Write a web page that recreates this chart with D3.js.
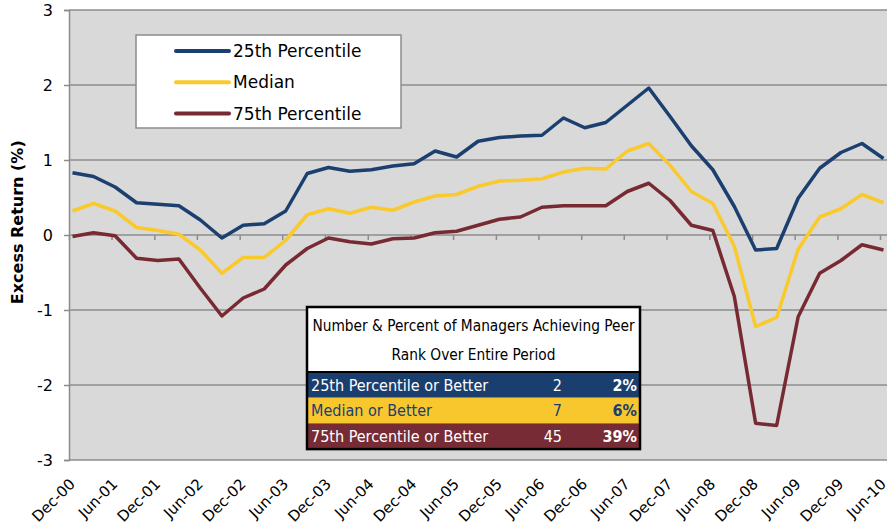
<!DOCTYPE html>
<html lang="en">
<head>
<meta charset="utf-8">
<title>Excess Return by Peer Rank</title>
<script src="https://d3js.org/d3.v7.min.js"></script>
<style>
    body { margin: 0; background: #ffffff; }
    text { font-family: "DejaVu Sans", sans-serif; fill: #000; }
    .tbl text { font-family: "DejaVu Sans Condensed", "DejaVu Sans", sans-serif; }
</style>
</head>
<body>
<svg width="889" height="522"></svg>
<script>
// quarterly categories
var quarters = ["Dec-00","Mar-01","Jun-01","Sep-01","Dec-01","Mar-02","Jun-02","Sep-02","Dec-02","Mar-03",
    "Jun-03","Sep-03","Dec-03","Mar-04","Jun-04","Sep-04","Dec-04","Mar-05","Jun-05","Sep-05",
    "Dec-05","Mar-06","Jun-06","Sep-06","Dec-06","Mar-07","Jun-07","Sep-07","Dec-07","Mar-08",
    "Jun-08","Sep-08","Dec-08","Mar-09","Jun-09","Sep-09","Dec-09","Mar-10","Jun-10"];

var tickLabels = ["Dec-00","Jun-01","Dec-01","Jun-02","Dec-02","Jun-03","Dec-03","Jun-04","Dec-04","Jun-05",
    "Dec-05","Jun-06","Dec-06","Jun-07","Dec-07","Jun-08","Dec-08","Jun-09","Dec-09","Jun-10"];

var yTicks = [-3, -2, -1, 0, 1, 2, 3];

var p25 = [0.83,0.78,0.64,0.43,0.41,0.39,0.20,-0.04,0.13,0.15,0.32,0.82,0.90,0.85,0.87,0.92,0.95,1.12,1.04,1.25,
    1.30,1.32,1.33,1.56,1.43,1.50,1.73,1.96,1.58,1.19,0.87,0.38,-0.20,-0.18,0.49,0.89,1.10,1.22,1.02];
var median = [0.32,0.42,0.32,0.10,0.06,0.01,-0.20,-0.51,-0.30,-0.30,-0.07,0.27,0.35,0.29,0.37,0.33,0.44,0.52,0.54,0.65,
    0.72,0.73,0.75,0.84,0.89,0.88,1.12,1.22,0.93,0.58,0.42,-0.15,-1.22,-1.10,-0.19,0.24,0.35,0.54,0.43];
var p75 = [-0.02,0.03,-0.01,-0.31,-0.34,-0.32,-0.71,-1.08,-0.84,-0.72,-0.40,-0.18,-0.04,-0.09,-0.12,-0.05,-0.04,0.03,0.05,0.13,
    0.21,0.24,0.37,0.39,0.39,0.39,0.58,0.69,0.46,0.13,0.06,-0.82,-2.51,-2.54,-1.09,-0.51,-0.34,-0.13,-0.20];

var seriesNames = ["25th Percentile", "Median", "75th Percentile"];
var seriesColors = ["#1b3f6e", "#fac92c", "#782a33"];

// summary table
var tableTitle = ["Number & Percent of Managers Achieving Peer", "Rank Over Entire Period"];
var tableRows = ["25th Percentile or Better", "Median or Better", "75th Percentile or Better"];
var tableCounts = [2, 7, 45];
var tablePct = ["2%", "6%", "39%"];
var tableFill = ["#1a3e6e", "#f8c72e", "#772b34"];
var tableText = ["#ffffff", "#1a3e6e", "#ffffff"];

var svg = d3.select("svg"),
    margin = {top: 10, right: 2, bottom: 62, left: 69},
    width = +svg.attr("width") - margin.left - margin.right,
    height = +svg.attr("height") - margin.top - margin.bottom,
    g = svg.append("g").attr("transform", "translate(" + margin.left + "," + margin.top + ")");

var parse = d3.timeParse("%b-%y");

// date axis, one slot per month, points sit in the middle of their month
var x = d3.scaleTime()
    .domain([parse("Dec-00"), d3.timeMonth.offset(parse("Jun-10"), 1)])
    .range([0, width]);
var y = d3.scaleLinear().domain([-3, 3]).range([height, 0]);

var xPos = function(q) { return x(d3.timeDay.offset(parse(q), 15)); };

g.append("rect")
    .attr("width", width).attr("height", height)
    .attr("fill", "#d9d9d9");

g.selectAll(".grid")
    .data(yTicks)
    .enter().append("line")
    .attr("x1", 0).attr("x2", width)
    .attr("y1", function(d) { return y(d); })
    .attr("y2", function(d) { return y(d); })
    .attr("stroke", "#8c8c8c")
    .attr("stroke-width", 1.5);

// y axis
var yAxis = g.append("g")
    .call(d3.axisLeft(y).tickValues(yTicks).tickSize(5).tickFormat(function(d) { return String(d); }));
yAxis.select(".domain").attr("stroke", "#8c8c8c").attr("stroke-width", 1.5);
yAxis.selectAll(".tick line").attr("stroke", "#8c8c8c").attr("stroke-width", 1.5);
yAxis.selectAll(".tick text")
    .attr("x", -16)
    .style("font-size", "16px")
    .style("font-family", "DejaVu Sans, sans-serif")
    .attr("fill", "#000");

// x axis crossing at zero, labels low
var tickDates = tickLabels.map(parse);
var xAxis = g.append("g")
    .attr("transform", "translate(0," + y(0) + ")")
    .call(d3.axisBottom(x).tickValues(tickDates).tickSize(5).tickFormat(""));
xAxis.select(".domain").remove();
xAxis.selectAll(".tick line").attr("stroke", "#8c8c8c").attr("stroke-width", 1.5);

g.selectAll(".xlabel")
    .data(tickLabels)
    .enter().append("text")
    .attr("class", "xlabel")
    .attr("text-anchor", "end")
    .attr("transform", function(d) {
        return "translate(" + (x(parse(d)) + 7) + "," + (height + 25) + ") rotate(-45)";
    })
    .style("font-size", "15px")
    .text(function(d) { return d; });

svg.append("text")
    .attr("transform", "translate(23," + (margin.top + y(0.17)) + ") rotate(-90)")
    .attr("text-anchor", "middle")
    .style("font-size", "16px")
    .style("font-weight", "bold")
    .text("Excess Return (%)");

// lines
var allSeries = [p25, median, p75];
var line = d3.line()
    .x(function(d, i) { return xPos(quarters[i]); })
    .y(function(d) { return y(d); });

g.selectAll(".series")
    .data(allSeries)
    .enter().append("path")
    .attr("class", "series")
    .attr("d", line)
    .attr("fill", "none")
    .attr("stroke", function(d, i) { return seriesColors[i]; })
    .attr("stroke-width", 3.5)
    .attr("stroke-linejoin", "round");

// legend
var legend = svg.append("g").attr("transform", "translate(136,35)");
legend.append("rect")
    .attr("width", 265).attr("height", 93)
    .attr("fill", "#fff").attr("stroke", "#8c8c8c").attr("stroke-width", 1.5);
seriesNames.forEach(function(name, i) {
    var ly = 16 + i * 31.3;
    legend.append("line")
        .attr("x1", 40).attr("x2", 93).attr("y1", ly).attr("y2", ly)
        .attr("stroke", seriesColors[i]).attr("stroke-width", 4).attr("stroke-linecap", "round");
    legend.append("text")
        .attr("x", 97).attr("y", ly).attr("dy", "0.36em")
        .style("font-size", "17px")
        .text(name);
});

// summary table
var tbl = svg.append("g").attr("class", "tbl").attr("transform", "translate(307,307)");
var tw = 333, rowH = 25.7, headH = 65;
tbl.append("rect").attr("width", tw).attr("height", headH).attr("fill", "#fff");
tableTitle.forEach(function(t, i) {
    tbl.append("text")
        .attr("x", tw / 2).attr("y", 18 + i * 29).attr("dy", "0.36em")
        .attr("text-anchor", "middle")
        .style("font-size", "15.3px")
        .text(t);
});
tableRows.forEach(function(r, i) {
    var ry = headH + i * rowH;
    tbl.append("rect").attr("y", ry).attr("width", tw).attr("height", rowH).attr("fill", tableFill[i]);
    tbl.append("text").attr("x", 4).attr("y", ry + rowH / 2).attr("dy", "0.36em")
        .style("font-size", "16px").style("fill", tableText[i]).text(r);
    tbl.append("text").attr("x", 255).attr("y", ry + rowH / 2).attr("dy", "0.36em")
        .attr("text-anchor", "end")
        .style("font-size", "16px").style("fill", tableText[i]).text(tableCounts[i]);
    tbl.append("text").attr("x", 330).attr("y", ry + rowH / 2).attr("dy", "0.36em")
        .attr("text-anchor", "end")
        .style("font-size", "16px").style("font-weight", "bold").style("fill", tableText[i]).text(tablePct[i]);
});
tbl.append("line").attr("x1", 0).attr("x2", tw).attr("y1", headH).attr("y2", headH)
    .attr("stroke", "#000").attr("stroke-width", 2);
tbl.append("rect").attr("width", tw).attr("height", headH + 3 * rowH)
    .attr("fill", "none").attr("stroke", "#000").attr("stroke-width", 2.5);
</script>
</body>
</html>
